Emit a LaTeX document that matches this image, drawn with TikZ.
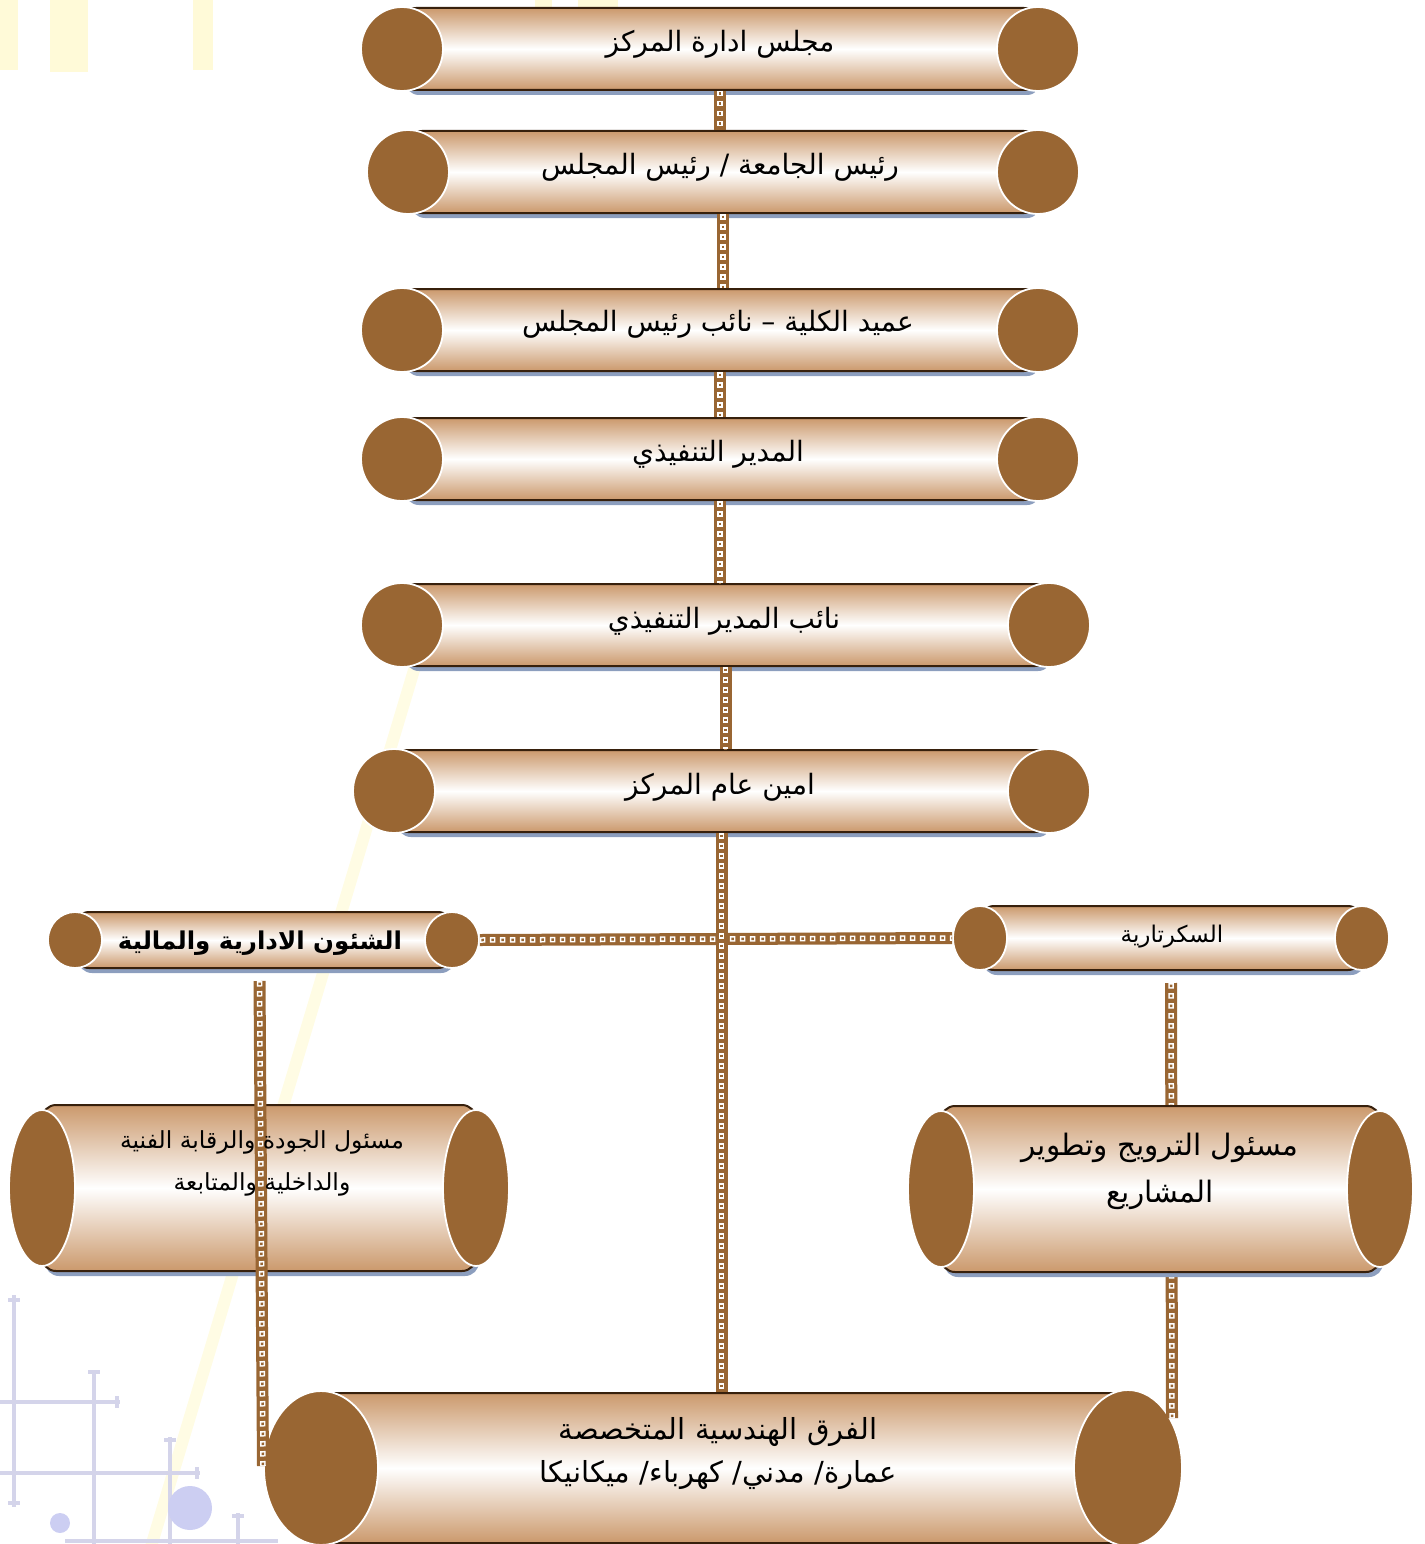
\documentclass[tikz,border=0pt]{standalone}
\usepackage{fontspec}
\newfontfamily\arabicfont[Script=Arabic]{DejaVu Sans}
\TeXXeTstate=1
\usetikzlibrary{shapes.geometric,calc}
\definecolor{cbrown}{RGB}{153,102,51}
\definecolor{ctan}{RGB}{203,153,108}
\definecolor{cedge}{RGB}{55,32,12}
\definecolor{cshadow}{RGB}{140,158,190}
\definecolor{cgrid}{RGB}{212,212,234}
\definecolor{cdot}{RGB}{204,206,242}
\definecolor{cyel}{RGB}{255,250,216}
\definecolor{cyel2}{RGB}{255,252,228}
\tikzset{
  cylbody/.style={draw=cedge, line width=2pt, rounded corners=14pt,
    top color=ctan, bottom color=ctan, middle color=white, inner sep=0pt,
    preaction={fill=cshadow, transform canvas={shift={(3pt,-5pt)}}}},
  cylend/.style={ellipse, fill=cbrown, draw=white, line width=1.8pt, inner sep=0pt},
  lbl/.style={font=\arabicfont\fontsize{28}{40}\selectfont, text=black, inner sep=0pt, align=center},
  chainln/.style={draw=cbrown, line width=12pt,
    postaction={draw=white, line width=5.5pt, dash pattern=on 5.5pt off 4.5pt,
      postaction={draw=cbrown, line width=2.5pt, dash pattern=on 2.5pt off 7.5pt, dash phase=-1.5pt}}},
  gridln/.style={draw=cgrid, line width=4.5pt},
}
% name, xL, xR, y, half height, rxL, ryL, rxR, ryR
\newcommand\mkcyl[9]{%
  \node[cylbody, minimum width={#3-#2}, minimum height={2*#5}] (#1) at ({(#2+#3)/2},#4) {};
  \node[cylend, minimum width={2*#6}, minimum height={2*#7}] (#1L) at (#2,#4) {};
  \node[cylend, minimum width={2*#8}, minimum height={2*#9}] (#1R) at (#3,#4) {};
}
\begin{document}
\begin{tikzpicture}[x=1pt,y=-1pt]
\useasboundingbox (0,0) rectangle (1424,1544);
% background decorations
\fill[cyel] (0,0) rectangle (18,70);
\fill[cyel] (50,0) rectangle (88,72);
\fill[cyel] (193,0) rectangle (213,70);
\fill[cyel] (535,0) rectangle (552,12);
\fill[cyel] (578,0) rectangle (618,12);
\draw[cyel2, line width=12pt] (420,650) -- (150,1550);
\draw[gridln] (14,1295) -- (14,1507);
\draw[gridln] (8,1300) -- (20,1300);
\draw[gridln] (8,1503) -- (20,1503);
\draw[gridln] (0,1402) -- (120,1402);
\draw[gridln] (117,1396) -- (117,1408);
\draw[gridln] (94,1370) -- (94,1544);
\draw[gridln] (88,1372) -- (100,1372);
\draw[gridln] (0,1473) -- (200,1473);
\draw[gridln] (197,1467) -- (197,1479);
\draw[gridln] (170,1437) -- (170,1544);
\draw[gridln] (164,1440) -- (176,1440);
\draw[gridln] (238,1513) -- (238,1544);
\draw[gridln] (232,1516) -- (244,1516);
\draw[gridln] (65,1541) -- (278,1541);
\fill[cdot] (190,1508) circle (22);
\fill[cdot] (60,1523) circle (10);

% nodes
\mkcyl{n1}{402}{1038}{49}{41}{41}{42}{41}{42}
\mkcyl{n2}{408}{1038}{172}{41}{41}{42}{41}{42}
\mkcyl{n3}{402}{1038}{330}{41}{41}{42}{41}{42}
\mkcyl{n4}{402}{1038}{459}{41}{41}{42}{41}{42}
\mkcyl{n5}{402}{1049}{625}{41}{41}{42}{41}{42}
\mkcyl{n6}{394}{1049}{791}{41}{41}{42}{41}{42}
\mkcyl{n7}{75}{452}{940}{28}{27}{28}{27}{28}
\mkcyl{n8}{980}{1362}{938}{32}{27}{32}{27}{32}

% connectors (upper chain)
\draw[chainln] (n1.south) -- (n1.south |- n2.north);
\draw[chainln] (n2.south) -- (n2.south |- n3.north);
\draw[chainln] (n3.south) -- (n3.south |- n4.north);
\draw[chainln] (n4.south) -- (n4.south |- n5.north);
\draw[chainln] (n5.south) -- (n5.south |- n6.north);
\coordinate (lend) at (263,1466);
\coordinate (rend) at (1172,1418);

\mkcyl{n11}{321}{1128}{1468}{75}{57}{77}{54}{78}
\draw[chainln] (n7R.east) -- (n8L.west);
\draw[chainln] (n6.south) -- (n6.south |- n11.north);
\draw[chainln] (n8.south) ++(0,12) -- (rend);
\mkcyl{n9}{42}{476}{1188}{83}{33}{78}{33}{78}
\mkcyl{n10}{941}{1380}{1189}{83}{33}{78}{33}{78}
\draw[chainln] (n7.south) ++(-4,12) -- (lend);

% labels
\node[lbl] (t1) at (720,44) {\beginR مجلس ادارة المركز\endR};
\node[lbl] (t2) at (720,167) {\beginR رئيس الجامعة / رئيس المجلس\endR};
\node[lbl] (t3) at (718,324) {\beginR عميد الكلية – نائب رئيس المجلس\endR};
\node[lbl] (t4) at (718,454) {\beginR المدير التنفيذي\endR};
\node[lbl] (t5) at (724,621) {\beginR نائب المدير التنفيذي\endR};
\node[lbl] (t6) at (720,787) {\beginR امين عام المركز\endR};
\node[lbl, font=\arabicfont\bfseries\fontsize{24.5}{30}\selectfont] (t7) at (260,943) {\beginR الشئون الادارية والمالية\endR};
\node[lbl, font=\arabicfont\fontsize{23}{24}\selectfont] (t8) at (1172,937) {\beginR السكرتارية\endR};
\node[lbl, font=\arabicfont\fontsize{23.5}{42}\selectfont] (t9) at (262,1163) {\beginR مسئول الجودة والرقابة الفنية\endR\\\beginR والداخلية والمتابعة\endR};
\node[lbl, font=\arabicfont\fontsize{29.5}{47}\selectfont] (t10) at (1160,1171) {\beginR مسئول الترويج وتطوير\endR\\\beginR المشاريع\endR};
\node[lbl, font=\arabicfont\fontsize{29}{43}\selectfont] (t11) at (718,1454) {\beginR الفرق الهندسية المتخصصة\endR\\\beginR عمارة/ مدني/ كهرباء/ ميكانيكا\endR};
\end{tikzpicture}
\end{document}
